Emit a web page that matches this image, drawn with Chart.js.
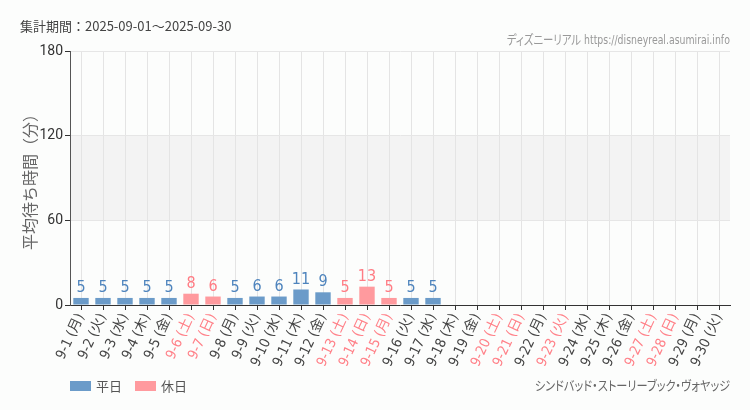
<!DOCTYPE html>
<html>
<head>
<meta charset="utf-8">
<script src="https://cdn.jsdelivr.net/npm/chart.js@4"></script>
<style>
  html, body { margin: 0; padding: 0; background: #fcfdfc; }
  #wrap { position: relative; width: 750px; height: 410px; }
  #period { position: absolute; left: 20px; top: 16px; font: 13px 'Noto Sans CJK JP', sans-serif; color: #444; }
  #site { position: absolute; right: 20px; top: 29px; font: 13px 'DejaVu Sans', 'Noto Sans CJK JP', sans-serif; font-stretch: condensed; color: #999; font-feature-settings: "palt"; transform: scaleX(0.8); transform-origin: right center; }
  #attraction { position: absolute; right: 20px; top: 375px; font: 13px 'Noto Sans CJK JP', sans-serif; color: #666; font-feature-settings: "palt"; transform: scaleX(0.86); transform-origin: right center; }
</style>
</head>
<body>
<div id="wrap">
  <canvas id="chart" width="750" height="410"></canvas>
  <div id="period">集計期間：2025-09-01～2025-09-30</div>
  <div id="site">ディズニーリアル https://disneyreal.asumirai.info</div>
  <div id="attraction">シンドバッド・ストーリーブック・ヴォヤッジ</div>
</div>
<script>
// Day labels for September 2025
const dayLabels = [
    '9-1 (月)', '9-2 (火)', '9-3 (水)', '9-4 (木)', '9-5 (金)', '9-6 (土)', '9-7 (日)',
    '9-8 (月)', '9-9 (火)', '9-10 (水)', '9-11 (木)', '9-12 (金)', '9-13 (土)', '9-14 (日)',
    '9-15 (月)', '9-16 (火)', '9-17 (水)', '9-18 (木)', '9-19 (金)', '9-20 (土)', '9-21 (日)',
    '9-22 (月)', '9-23 (火)', '9-24 (水)', '9-25 (木)', '9-26 (金)', '9-27 (土)', '9-28 (日)',
    '9-29 (月)', '9-30 (火)'
];

// Holidays (weekends + public holidays), by index
const holidayIdx = [5, 6, 12, 13, 14, 19, 20, 22, 26, 27];

// Average wait (minutes) per day, null = no data
const waitTimes = [
    5, 5, 5, 5, 5, 8, 6, 5, 6, 6, 11, 9, 5, 13, 5, 5, 5,
    null, null, null, null, null, null, null, null, null, null, null, null, null
];

const yTicks = [0, 60, 120, 180];

const BLUE = '#6b9bc9';
const PINK = '#ff9a9e';
const BLUE_TEXT = '#4e84bd';
const PINK_TEXT = '#ff7c84';

const weekdayData = waitTimes.map((v, i) => holidayIdx.includes(i) ? null : v);
const holidayData = waitTimes.map((v, i) => holidayIdx.includes(i) ? v : null);

/**
 * Shade the 60-120 band behind the grid
 */
const bandPlugin = {
    id: 'band',
    beforeDraw(chart) {
        const { ctx, chartArea, scales } = chart;
        const top = scales.y.getPixelForValue(120);
        const bottom = scales.y.getPixelForValue(60);
        ctx.save();
        ctx.fillStyle = '#f3f3f3';
        ctx.fillRect(chartArea.left, top, chartArea.right - chartArea.left, bottom - top);
        ctx.restore();
    }
};

/**
 * Value labels above bars and the bottom legend
 */
const labelPlugin = {
    id: 'labels',
    afterDatasetsDraw(chart) {
        const { ctx } = chart;
        ctx.save();
        ctx.font = 'condensed 16px "DejaVu Sans", sans-serif';
        ctx.fontStretch = 'condensed';
        ctx.textAlign = 'center';
        ctx.textBaseline = 'bottom';
        chart.data.datasets.forEach((ds, di) => {
            const meta = chart.getDatasetMeta(di);
            meta.data.forEach((bar, i) => {
                const v = ds.data[i];
                if (v === null) return;
                ctx.fillStyle = di === 0 ? BLUE_TEXT : PINK_TEXT;
                ctx.fillText(String(v), bar.x, bar.y - 2);
            });
        });
        ctx.fontStretch = 'normal';

        // legend
        let x = 70;
        const y = 381;
        ctx.font = '13px "Noto Sans CJK JP", sans-serif';
        ctx.textAlign = 'left';
        ctx.textBaseline = 'middle';
        chart.data.datasets.forEach(ds => {
            ctx.fillStyle = ds.backgroundColor;
            ctx.fillRect(x, y, 21, 10);
            ctx.fillStyle = '#555';
            ctx.fillText(ds.label, x + 26, y + 5);
            x += 65;
        });
        ctx.restore();
    }
};

new Chart(document.getElementById('chart'), {
    type: 'bar',
    data: {
        labels: dayLabels,
        datasets: [
            { label: '平日', data: weekdayData, backgroundColor: BLUE },
            { label: '休日', data: holidayData, backgroundColor: PINK }
        ]
    },
    options: {
        responsive: false,
        animation: false,
        layout: { padding: { top: 51, right: 20, left: 0, bottom: 0 } },
        datasets: {
            bar: { grouped: false, categoryPercentage: 0.7, barPercentage: 1 }
        },
        plugins: {
            legend: { display: false },
            tooltip: { enabled: false }
        },
        scales: {
            x: {
                offset: true,
                grid: { offset: false, color: '#e4e4e4', tickColor: '#333', tickLength: 5 },
                border: { color: '#333' },
                ticks: {
                    autoSkip: false,
                    minRotation: 65,
                    maxRotation: 65,
                    padding: 1,
                    font: { size: 14, weight: 'condensed', family: '"DejaVu Sans", "Noto Sans CJK JP", sans-serif' },
                    color: ctx => holidayIdx.includes(ctx.index) ? '#ff8088' : '#444'
                },
                afterFit(scale) { scale.height = 105; }
            },
            y: {
                min: 0,
                max: 180,
                afterBuildTicks(scale) { scale.ticks = yTicks.map(v => ({ value: v })); },
                grid: { color: '#e6e6e6', tickColor: '#333', tickLength: 5 },
                border: { color: '#555' },
                ticks: {
                    padding: 2,
                    font: { size: 14, family: 'Roboto, sans-serif' },
                    color: '#333'
                },
                title: {
                    display: true,
                    text: '平均待ち時間（分）',
                    color: '#666',
                    font: { size: 16, family: '"Noto Sans CJK JP", sans-serif' },
                    padding: { top: 20, bottom: 4 }
                },
                afterFit(scale) { scale.width = 70; }
            }
        }
    },
    plugins: [bandPlugin, labelPlugin]
});
</script>
</body>
</html>
